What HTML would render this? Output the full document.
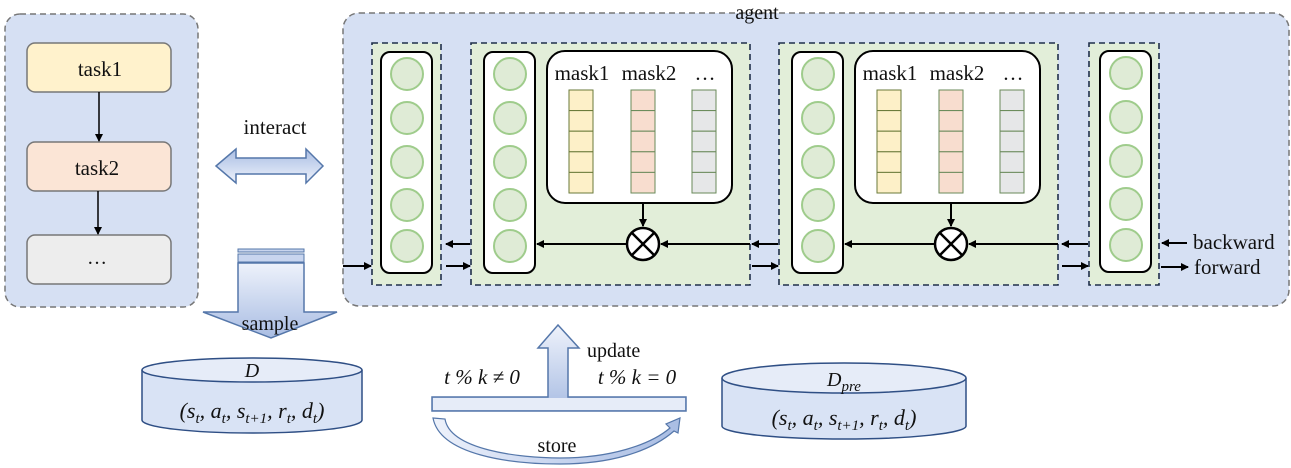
<!DOCTYPE html>
<html><head><meta charset="utf-8"><style>
html,body{margin:0;padding:0;background:#fff;}
svg{display:block;font-family:"Liberation Serif","DejaVu Serif",serif;}
svg text{font-family:"Liberation Serif","DejaVu Serif",serif !important;fill:#111;}
</style></head><body>
<svg width="1291" height="468" viewBox="0 0 1291 468" xmlns="http://www.w3.org/2000/svg" font-family="Liberation Serif, DejaVu Serif, serif">
<defs>
<linearGradient id="bg" x1="0" y1="0" x2="0" y2="1"><stop offset="0" stop-color="#eef2fb"/><stop offset="1" stop-color="#a9bde3"/></linearGradient>
<linearGradient id="bh" x1="0" y1="0" x2="1" y2="0"><stop offset="0" stop-color="#eef2fb"/><stop offset="0.5" stop-color="#c8d5ef"/><stop offset="1" stop-color="#a9bde3"/></linearGradient>
<linearGradient id="bv" x1="0" y1="0" x2="0" y2="1"><stop offset="0" stop-color="#a9bde3"/><stop offset="1" stop-color="#eef2fb"/></linearGradient>
<marker id="ah" markerWidth="8" markerHeight="8" refX="7" refY="4" orient="auto" markerUnits="userSpaceOnUse"><path d="M0,0 L8,4 L0,8 z" fill="#000"/></marker>
<g id="col">
<rect x="0" y="0" width="51" height="221" rx="9" fill="#fff" stroke="#000" stroke-width="2"/>
<g fill="#dfebd6" stroke="#9fcc8c" stroke-width="2">
<circle cx="26" cy="22" r="16"/><circle cx="26" cy="66" r="16"/><circle cx="26" cy="110" r="16"/><circle cx="26" cy="153" r="16"/><circle cx="26" cy="194" r="16"/>
</g></g>
<g id="cells">
<rect x="0" y="0" width="24" height="20.6"/><rect x="0" y="20.6" width="24" height="20.6"/><rect x="0" y="41.2" width="24" height="20.6"/><rect x="0" y="61.8" width="24" height="20.6"/><rect x="0" y="82.4" width="24" height="20.6"/>
</g>
<g id="mod">
<rect x="0" y="0" width="279" height="242" fill="#e2eed9" stroke="#1f2f4a" stroke-width="1.6" stroke-dasharray="6,4"/>
<use href="#col" x="13" y="9"/>
<rect x="76" y="8" width="185" height="152" rx="18" fill="#fff" stroke="#000" stroke-width="2"/>
<text x="111" y="37" font-size="21" text-anchor="middle" font-family="Liberation Serif, serif">mask1</text>
<text x="178" y="37" font-size="21" text-anchor="middle" font-family="Liberation Serif, serif">mask2</text>
<text x="234" y="37" font-size="21" text-anchor="middle" font-family="Liberation Serif, serif">…</text>
<use href="#cells" x="98" y="47" fill="#fdf0c8" stroke="#6a7a3a" stroke-width="1"/>
<use href="#cells" x="160" y="47" fill="#f8ddcf" stroke="#6a8a5a" stroke-width="1"/>
<use href="#cells" x="221" y="47" fill="#e6e7e8" stroke="#6a8a5a" stroke-width="1"/>
<line x1="172" y1="160" x2="172" y2="183" stroke="#000" stroke-width="2" marker-end="url(#ah)"/>
<circle cx="172" cy="201" r="16" fill="#fff" stroke="#000" stroke-width="2.5"/>
<line x1="161" y1="190" x2="183" y2="212" stroke="#000" stroke-width="2.5"/>
<line x1="183" y1="190" x2="161" y2="212" stroke="#000" stroke-width="2.5"/>
<line x1="279" y1="201" x2="190" y2="201" stroke="#000" stroke-width="2" marker-end="url(#ah)"/>
<line x1="156" y1="201" x2="66" y2="201" stroke="#000" stroke-width="2" marker-end="url(#ah)"/>
</g>
</defs>

<rect x="5" y="14" width="193" height="293" rx="15" fill="#d6e0f3" stroke="#777" stroke-width="1.5" stroke-dasharray="6,4"/>
<rect x="27" y="43" width="144" height="49" rx="8" fill="#fff2cc" stroke="#777" stroke-width="1.5"/>
<text x="100" y="76" font-size="21" text-anchor="middle" font-family="Liberation Serif, serif">task1</text>
<rect x="27" y="142" width="144" height="49" rx="8" fill="#fbe5d6" stroke="#777" stroke-width="1.5"/>
<text x="97" y="175" font-size="21" text-anchor="middle" font-family="Liberation Serif, serif">task2</text>
<rect x="27" y="235" width="144" height="49" rx="8" fill="#ededed" stroke="#777" stroke-width="1.5"/>
<text x="97" y="264" font-size="20" text-anchor="middle" font-family="Liberation Serif, serif">…</text>
<line x1="99" y1="92" x2="99" y2="141" stroke="#000" stroke-width="1.5" marker-end="url(#ah)"/>
<line x1="98" y1="191" x2="98" y2="234" stroke="#000" stroke-width="1.5" marker-end="url(#ah)"/>

<text x="275" y="134" font-size="21" text-anchor="middle" font-family="Liberation Serif, serif">interact</text>
<path d="M216,166 L236,149 L236,158 L306,158 L306,149 L323,166 L306,183 L306,174 L236,174 L236,183 Z" fill="url(#bv)" stroke="#5577aa" stroke-width="1.5"/>

<rect x="343" y="13" width="946" height="293" rx="16" fill="#d6e0f3" stroke="#777" stroke-width="1.5" stroke-dasharray="6,4"/>
<text x="757" y="19" font-size="20" text-anchor="middle" font-family="Liberation Serif, serif">agent</text>

<rect x="372" y="43" width="69" height="242" fill="#e2eed9" stroke="#1f2f4a" stroke-width="1.6" stroke-dasharray="6,4"/>
<use href="#col" x="381" y="52"/>
<use href="#mod" x="471" y="43"/>
<use href="#mod" x="779" y="43"/>
<rect x="1089" y="43" width="70" height="242" fill="#e2eed9" stroke="#1f2f4a" stroke-width="1.6" stroke-dasharray="6,4"/>
<use href="#col" x="1100" y="51"/>

<g stroke="#000" stroke-width="2">
<line x1="343" y1="266" x2="371" y2="266" marker-end="url(#ah)"/>
<line x1="470" y1="244" x2="446" y2="244" marker-end="url(#ah)"/>
<line x1="446" y1="266" x2="470" y2="266" marker-end="url(#ah)"/>
<line x1="778" y1="244" x2="752" y2="244" marker-end="url(#ah)"/>
<line x1="752" y1="266" x2="778" y2="266" marker-end="url(#ah)"/>
<line x1="1088" y1="244" x2="1062" y2="244" marker-end="url(#ah)"/>
<line x1="1062" y1="266" x2="1088" y2="266" marker-end="url(#ah)"/>
<line x1="1187" y1="243" x2="1162" y2="243" marker-end="url(#ah)"/>
<line x1="1161" y1="267" x2="1188" y2="267" marker-end="url(#ah)"/>
</g>
<text x="1193" y="249" font-size="21" font-family="Liberation Serif, serif">backward</text>
<text x="1194" y="274" font-size="21" font-family="Liberation Serif, serif">forward</text>

<rect x="238" y="249" width="66" height="3" fill="#c8d5ef" stroke="#5577aa" stroke-width="1"/>
<rect x="238" y="254" width="66" height="8" fill="#c8d5ef" stroke="#5577aa" stroke-width="1"/>
<path d="M238,263 L304,263 L304,312 L337,312 L271,338 L203,312 L238,312 Z" fill="url(#bg)" stroke="#5577aa" stroke-width="1.5"/>
<text x="270" y="330" font-size="20" text-anchor="middle" font-family="Liberation Serif, serif">sample</text>

<path d="M142,370 L142,420 A110,13 0 0 0 362,420 L362,370" fill="#d9e3f5" stroke="#2f4f85" stroke-width="1.5"/>
<ellipse cx="252" cy="370" rx="110" ry="12" fill="#e6ecf8" stroke="#2f4f85" stroke-width="1.5"/>
<text x="252" y="377" font-size="20" font-style="italic" text-anchor="middle" font-family="Liberation Serif, serif">D</text>
<text x="252" y="418" font-size="22" font-style="italic" text-anchor="middle" font-family="Liberation Serif, serif">(s<tspan font-size="15" dy="5">t</tspan><tspan dy="-5">, a</tspan><tspan font-size="15" dy="5">t</tspan><tspan dy="-5">, s</tspan><tspan font-size="15" dy="5">t+1</tspan><tspan dy="-5">, r</tspan><tspan font-size="15" dy="5">t</tspan><tspan dy="-5">, d</tspan><tspan font-size="15" dy="5">t</tspan><tspan dy="-5">)</tspan></text>

<path d="M722,378 L722,426 A122,13 0 0 0 966,426 L966,378" fill="#d9e3f5" stroke="#2f4f85" stroke-width="1.5"/>
<ellipse cx="844" cy="378" rx="122" ry="15" fill="#e6ecf8" stroke="#2f4f85" stroke-width="1.5"/>
<text x="844" y="386" font-size="20" font-style="italic" text-anchor="middle" font-family="Liberation Serif, serif">D<tspan font-size="15" dy="5">pre</tspan></text>
<text x="844" y="425" font-size="22" font-style="italic" text-anchor="middle" font-family="Liberation Serif, serif">(s<tspan font-size="15" dy="5">t</tspan><tspan dy="-5">, a</tspan><tspan font-size="15" dy="5">t</tspan><tspan dy="-5">, s</tspan><tspan font-size="15" dy="5">t+1</tspan><tspan dy="-5">, r</tspan><tspan font-size="15" dy="5">t</tspan><tspan dy="-5">, d</tspan><tspan font-size="15" dy="5">t</tspan><tspan dy="-5">)</tspan></text>

<path d="M432,397 L548,397 L548,348 L538,348 L558,325 L579,348 L568,348 L568,397 L686,397 L686,411 L432,411 Z" fill="url(#bg)" stroke="#5577aa" stroke-width="1.5"/>
<rect x="433" y="398" width="252" height="12" fill="#e6ecf8"/>
<text x="587" y="357" font-size="20" font-family="Liberation Serif, serif">update</text>
<text x="482" y="384" font-size="21" font-style="italic" text-anchor="middle" font-family="Liberation Serif, serif">t % k ≠ 0</text>
<text x="637" y="384" font-size="21" font-style="italic" text-anchor="middle" font-family="Liberation Serif, serif">t % k = 0</text>

<path d="M433,418 L445,419 C450,450 520,458 560,458 C610,458 650,445 670,428 L666,424 L680,418 L678,433 L674,431 C650,452 610,464 560,464 C510,464 440,455 433,418 Z" fill="url(#bh)" stroke="#5577aa" stroke-width="1.2"/>
<text x="557" y="452" font-size="20" text-anchor="middle" font-family="Liberation Serif, serif">store</text>
</svg>
</body></html>
